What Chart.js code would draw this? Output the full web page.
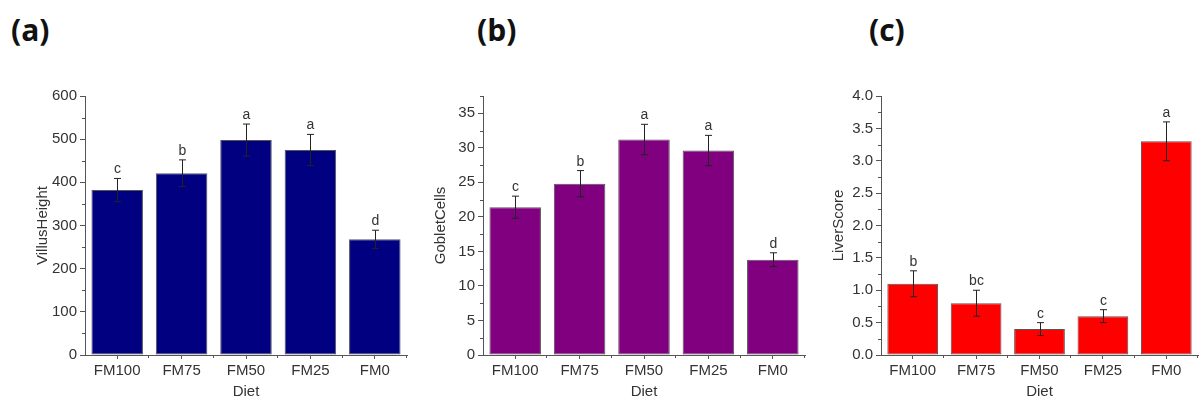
<!DOCTYPE html>
<html>
<head>
<meta charset="utf-8">
<script src="https://cdn.jsdelivr.net/npm/chart.js"></script>
<style>
  body { margin: 0; background: #fff; }
  #wrap { position: relative; width: 1201px; height: 401px; overflow: hidden; }
  .panel { position: absolute; top: 0; height: 401px; }
  .tag { position: absolute; top: 9px; font-family: "Open Sans", sans-serif; font-weight: 700; font-size: 30px; color: #111; }
</style>
</head>
<body>
<div id="wrap">
  <div class="tag" style="left:11px">(a)</div>
  <div class="tag" style="left:477px">(b)</div>
  <div class="tag" style="left:869px">(c)</div>
  <div class="panel" style="left:0px;width:410px"><canvas id="chartA"></canvas></div>
  <div class="panel" style="left:398px;width:410px"><canvas id="chartB"></canvas></div>
  <div class="panel" style="left:796px;width:405px"><canvas id="chartC"></canvas></div>
</div>
<script>
// data
var diets = ['FM100', 'FM75', 'FM50', 'FM25', 'FM0'];

var villusHeight = [382, 421, 498, 475, 268];
var villusErr = [27, 31, 37, 36, 21];
var villusLetters = ['c', 'b', 'a', 'a', 'd'];

var gobletCells = [21.4, 24.8, 31.2, 29.6, 13.8];
var gobletErr = [1.6, 1.9, 2.2, 2.2, 1.0];
var gobletLetters = ['c', 'b', 'a', 'a', 'd'];

var liverScore = [1.1, 0.8, 0.4, 0.6, 3.3];
var liverErr = [0.2, 0.2, 0.1, 0.1, 0.3];
var liverLetters = ['b', 'bc', 'c', 'c', 'a'];

var textColor = '#333';
var axisColor = '#555';

// error bars, significance letters and minor ticks
var extrasPlugin = {
    id: 'extras',
    afterDatasetsDraw: function(chart, args, opts) {
        var ctx = chart.ctx;
        var meta = chart.getDatasetMeta(0);
        var yScale = chart.scales.y;
        var values = chart.data.datasets[0].data;
        ctx.save();
        ctx.strokeStyle = '#222';
        ctx.lineWidth = 1;
        meta.data.forEach(function(bar, i) {
            var x = Math.round(bar.x) + 0.5;
            var top = yScale.getPixelForValue(values[i] + opts.errors[i]);
            var bottom = yScale.getPixelForValue(values[i] - opts.errors[i]);
            ctx.beginPath();
            ctx.moveTo(x, top);
            ctx.lineTo(x, bottom);
            ctx.moveTo(x - 3.5, top);
            ctx.lineTo(x + 3.5, top);
            ctx.moveTo(x - 3.5, bottom);
            ctx.lineTo(x + 3.5, bottom);
            ctx.stroke();

            ctx.fillStyle = textColor;
            ctx.font = '14px "Liberation Sans", Arial, sans-serif';
            ctx.textAlign = 'center';
            ctx.textBaseline = 'alphabetic';
            ctx.fillText(opts.letters[i], x, top - 5);
        });
        ctx.restore();
    },
    afterDraw: function(chart, args, opts) {
        var ctx = chart.ctx;
        var area = chart.chartArea;
        var yScale = chart.scales.y;
        ctx.save();
        ctx.strokeStyle = axisColor;
        ctx.lineWidth = 1;
        ctx.beginPath();
        // minor y ticks
        var half = opts.step / 2;
        for (var v = half; v <= yScale.max + 1e-9; v += opts.step) {
            var py = Math.round(yScale.getPixelForValue(v)) + 0.5;
            ctx.moveTo(area.left - 3, py);
            ctx.lineTo(area.left, py);
        }
        // minor x ticks at category boundaries
        var n = chart.data.labels.length;
        var w = (area.right - area.left) / n;
        for (var i = 1; i <= n; i++) {
            var px = Math.round(area.left + i * w) - 0.5;
            ctx.moveTo(px, area.bottom);
            ctx.lineTo(px, area.bottom + 3);
        }
        ctx.stroke();
        ctx.restore();
    }
};

function makeChart(id, values, errors, letters, color, yTitle, yMax, step, decimals) {
    var ctx = document.getElementById(id).getContext('2d');
    return new Chart(ctx, {
        type: 'bar',
        data: {
            labels: diets,
            datasets: [{
                label: yTitle,
                data: values,
                backgroundColor: color,
                borderColor: '#555',
                borderWidth: 1,
                borderSkipped: false,
                barPercentage: 0.8,
                categoryPercentage: 1.0
            }]
        },
        plugins: [extrasPlugin],
        options: {
            responsive: true,
            maintainAspectRatio: false,
            animation: false,
            layout: { padding: { top: 96, right: 3, left: 0, bottom: 0 } },
            plugins: {
                legend: { display: false },
                tooltip: { enabled: false },
                extras: { errors: errors, letters: letters, step: step }
            },
            scales: {
                x: {
                    grid: { offset: false, drawOnChartArea: false, tickLength: 4, color: axisColor },
                    border: { color: axisColor },
                    ticks: { color: textColor, padding: 3, font: { family: '"Liberation Sans", Arial', size: 15 } },
                    title: { display: true, text: 'Diet', color: textColor, padding: { top: 5, bottom: 0 },
                             font: { family: '"Liberation Sans", Arial', size: 15 } },
                    afterFit: function(scale) { scale.height = 46; }
                },
                y: {
                    min: 0,
                    max: yMax,
                    grid: { drawOnChartArea: false, tickLength: 5, color: axisColor },
                    border: { color: axisColor },
                    ticks: {
                        stepSize: step,
                        includeBounds: false,
                        color: textColor,
                        padding: 3,
                        font: { family: '"Liberation Sans", Arial', size: 15 },
                        callback: function(v) { return v.toFixed(decimals); }
                    },
                    title: { display: true, text: yTitle, color: textColor, padding: { top: 34, bottom: 0 },
                             font: { family: '"Liberation Sans", Arial', size: 15 } },
                    afterFit: function(scale) { scale.width = 85; }
                }
            }
        }
    });
}

makeChart('chartA', villusHeight, villusErr, villusLetters, '#000080', 'VillusHeight', 600, 100, 0);
makeChart('chartB', gobletCells, gobletErr, gobletLetters, '#800080', 'GobletCells', 37.5, 5, 0);
makeChart('chartC', liverScore, liverErr, liverLetters, '#ff0000', 'LiverScore', 4, 0.5, 1);
</script>
</body>
</html>
